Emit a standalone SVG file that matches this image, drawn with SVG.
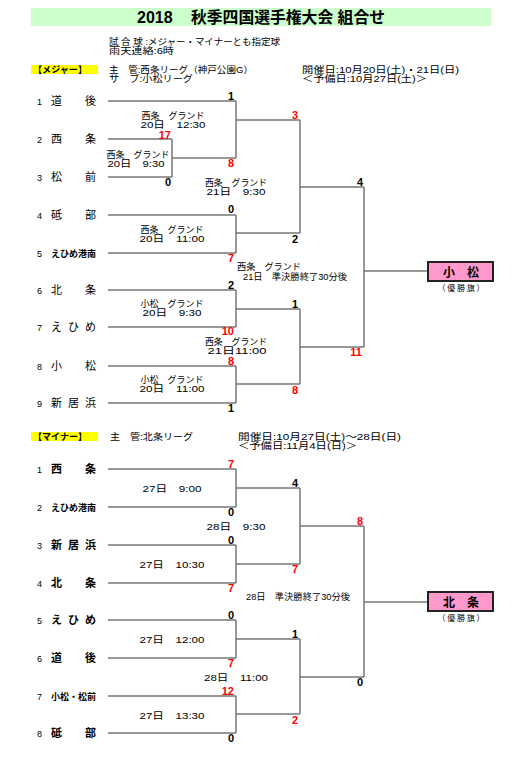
<svg xmlns="http://www.w3.org/2000/svg" width="525" height="767" viewBox="0 0 525 767">
<style>
text{font-family:'Liberation Sans','Noto Sans CJK JP',sans-serif;fill:#000}
.num{font-size:9px}
.nm{font-size:11px}
.nmb{font-size:11px;font-weight:bold}
.nms{font-size:9px;font-weight:bold}
.lb{font-size:9px;text-anchor:middle}
.lbs{font-size:9px}
.sc{font-size:11px;font-weight:bold;text-anchor:end}
.r{fill:#ff0000}
.hd{font-size:9px}
.yl{fill:#ffff00}
.ln{fill:none;stroke:#777;stroke-width:1.5}
.win{fill:#ff99cc;stroke:#222;stroke-width:2}
.wt{font-size:12px;font-weight:bold;text-anchor:middle}
.wf{font-size:8px;text-anchor:middle}
</style>
<rect width="525" height="767" fill="#fff"/>
<g id="header">
<rect x="31" y="8" width="460" height="18" fill="#ccffcc"/>
<text y="23" font-size="16" font-weight="bold"><tspan x="137">2018</tspan><tspan x="191" textLength="194" lengthAdjust="spacingAndGlyphs">秋季四国選手権大会 組合せ</tspan></text>
<text class="hd" x="109" y="45" textLength="171" lengthAdjust="spacingAndGlyphs">試 合 球 :メジャー・マイナーとも指定球</text>
<text class="hd" x="109" y="54" textLength="65" lengthAdjust="spacingAndGlyphs">雨天連絡:6時</text>
<rect class="yl" x="31" y="65" width="67" height="9"/>
<text class="hd" x="33" y="73" font-weight="bold" textLength="54" lengthAdjust="spacingAndGlyphs">【メジャー】</text>
<text class="hd" x="109" y="73" textLength="144" lengthAdjust="spacingAndGlyphs">主　管:西条リーグ（神戸公園G）</text>
<text class="hd" x="109" y="82" textLength="84" lengthAdjust="spacingAndGlyphs">サ　ブ:小松リーグ</text>
<text class="hd" x="302" y="73" textLength="157" lengthAdjust="spacingAndGlyphs">開催日:10月20日(土)・21日(日)</text>
<text class="hd" x="302" y="82" textLength="125" lengthAdjust="spacingAndGlyphs">＜予備日:10月27日(土)＞</text>
<rect class="yl" x="31" y="432" width="67" height="9"/>
<text class="hd" x="33" y="440" font-weight="bold" textLength="54" lengthAdjust="spacingAndGlyphs">【マイナー】</text>
<text class="hd" x="110" y="440" textLength="83" lengthAdjust="spacingAndGlyphs">主　管:北条リーグ</text>
<text class="hd" x="238" y="440" textLength="163" lengthAdjust="spacingAndGlyphs">開催日:10月27日(土)～28日(日)</text>
<text class="hd" x="238" y="449" textLength="119" lengthAdjust="spacingAndGlyphs">＜予備日:11月4日(日)＞</text>
</g>
<g id="connectors">
<path class="ln" d="M108 101H236M108 139H172M108 177H172M172 139V177M172 158H236M236 101V158M236 120H300M108 215H236M108 253H236M236 215V253M236 233H300M300 120V233M300 187H364M108 290H236M108 327H236M236 290V327M236 309H300M108 366H236M108 403H236M236 366V403M236 384H300M300 309V384M300 347H364M364 187V347M364 271H428"/>
<path class="ln" d="M108 469H236M108 507H236M236 469V507M236 488H300M108 545H236M108 583H236M236 545V583M236 564H300M300 488V564M300 526H364M108 620H236M108 658H236M236 620V658M236 639H300M108 696H236M108 733H236M236 696V733M236 714H300M300 639V714M300 677H364M364 526V677M364 602H428"/>
</g>
<g id="major-teams">
<g id="mj1"><text class="num" x="37" y="105">1</text><text class="nm" x="51 85" y="105">道後</text></g>
<g id="mj2"><text class="num" x="37" y="143">2</text><text class="nm" x="51 85" y="143">西条</text></g>
<g id="mj3"><text class="num" x="37" y="181">3</text><text class="nm" x="51 85" y="181">松前</text></g>
<g id="mj4"><text class="num" x="37" y="219">4</text><text class="nm" x="51 85" y="219">砥部</text></g>
<g id="mj5"><text class="num" x="37" y="257">5</text><text class="nms" x="51" y="257" textLength="45" lengthAdjust="spacingAndGlyphs">えひめ港南</text></g>
<g id="mj6"><text class="num" x="37" y="294">6</text><text class="nm" x="51 85" y="294">北条</text></g>
<g id="mj7"><text class="num" x="37" y="331">7</text><text class="nm" x="51 68 85" y="331">えひめ</text></g>
<g id="mj8"><text class="num" x="37" y="370">8</text><text class="nm" x="51 85" y="370">小松</text></g>
<g id="mj9"><text class="num" x="37" y="407">9</text><text class="nm" x="51 68 85" y="407">新居浜</text></g>
</g>
<g id="minor-teams">
<g id="mn1"><text class="num" x="37" y="473">1</text><text class="nmb" x="51 85" y="473">西条</text></g>
<g id="mn2"><text class="num" x="37" y="511">2</text><text class="nms" x="51" y="511" textLength="45" lengthAdjust="spacingAndGlyphs">えひめ港南</text></g>
<g id="mn3"><text class="num" x="37" y="549">3</text><text class="nmb" x="51 68 85" y="549">新居浜</text></g>
<g id="mn4"><text class="num" x="37" y="587">4</text><text class="nmb" x="51 85" y="587">北条</text></g>
<g id="mn5"><text class="num" x="37" y="624">5</text><text class="nmb" x="51 68 85" y="624">えひめ</text></g>
<g id="mn6"><text class="num" x="37" y="662">6</text><text class="nmb" x="51 85" y="662">道後</text></g>
<g id="mn7"><text class="num" x="37" y="700">7</text><text class="nms" x="51" y="700" textLength="45" lengthAdjust="spacingAndGlyphs">小松・松前</text></g>
<g id="mn8"><text class="num" x="37" y="737">8</text><text class="nmb" x="51 85" y="737">砥部</text></g>
</g>
<g id="winner-major">
<rect class="win" x="428" y="262" width="65" height="19"/>
<text class="wt" x="461" y="277">小　松</text>
<text class="wf" x="461" y="291" textLength="47" lengthAdjust="spacing">（優勝旗）</text>
</g>
<g id="winner-minor">
<rect class="win" x="428" y="592" width="65" height="19"/>
<text class="wt" x="461" y="607">北　条</text>
<text class="wf" x="461" y="621" textLength="47" lengthAdjust="spacing">（優勝旗）</text>
</g>
<g id="labels">
<text class="lb" x="173" y="119" textLength="63" lengthAdjust="spacingAndGlyphs">西条　グランド</text>
<text class="lb" x="173" y="128" textLength="65" lengthAdjust="spacingAndGlyphs">20日　12:30</text>
<text class="lb" x="138" y="158" textLength="63" lengthAdjust="spacingAndGlyphs">西条　グランド</text>
<text class="lb" x="136" y="167" textLength="57" lengthAdjust="spacingAndGlyphs">20日　9:30</text>
<text class="lb" x="236" y="186" textLength="62" lengthAdjust="spacingAndGlyphs">西条　グランド</text>
<text class="lb" x="236" y="195" textLength="59" lengthAdjust="spacingAndGlyphs">21日　9:30</text>
<text class="lb" x="172" y="233" textLength="63" lengthAdjust="spacingAndGlyphs">西条　グランド</text>
<text class="lb" x="172" y="242" textLength="65" lengthAdjust="spacingAndGlyphs">20日　11:00</text>
<text class="lbs" x="237" y="270" textLength="64" lengthAdjust="spacingAndGlyphs">西条　グランド</text>
<text class="lbs" x="243" y="280" textLength="104" lengthAdjust="spacingAndGlyphs">21日　準決勝終了30分後</text>
<text class="lb" x="172" y="307" textLength="63" lengthAdjust="spacingAndGlyphs">小松　グランド</text>
<text class="lb" x="172" y="316" textLength="59" lengthAdjust="spacingAndGlyphs">20日　9:30</text>
<text class="lb" x="236" y="345" textLength="62" lengthAdjust="spacingAndGlyphs">西条　グランド</text>
<text class="lb" x="237" y="354" textLength="59" lengthAdjust="spacingAndGlyphs">21日11:00</text>
<text class="lb" x="172" y="383" textLength="63" lengthAdjust="spacingAndGlyphs">小松　グランド</text>
<text class="lb" x="172" y="392" textLength="65" lengthAdjust="spacingAndGlyphs">20日　11:00</text>
<text class="lb" x="172" y="492" textLength="59" lengthAdjust="spacingAndGlyphs">27日　9:00</text>
<text class="lb" x="236" y="530" textLength="59" lengthAdjust="spacingAndGlyphs">28日　9:30</text>
<text class="lb" x="172" y="568" textLength="65" lengthAdjust="spacingAndGlyphs">27日　10:30</text>
<text class="lbs" x="246" y="600" textLength="104" lengthAdjust="spacingAndGlyphs">28日　準決勝終了30分後</text>
<text class="lb" x="172" y="643" textLength="65" lengthAdjust="spacingAndGlyphs">27日　12:00</text>
<text class="lb" x="236" y="681" textLength="64" lengthAdjust="spacingAndGlyphs">28日　11:00</text>
<text class="lb" x="172" y="719" textLength="65" lengthAdjust="spacingAndGlyphs">27日　13:30</text>
</g>
<g id="scores">
<text class="sc" x="234" y="100">1</text>
<text class="sc r" x="171" y="139">17</text>
<text class="sc" x="171" y="186">0</text>
<text class="sc r" x="234" y="167">8</text>
<text class="sc r" x="298" y="119">3</text>
<text class="sc" x="298" y="243">2</text>
<text class="sc" x="363" y="186">4</text>
<text class="sc" x="234" y="213">0</text>
<text class="sc r" x="234" y="262">7</text>
<text class="sc" x="234" y="289">2</text>
<text class="sc r" x="234" y="335">10</text>
<text class="sc" x="298" y="308">1</text>
<text class="sc r" x="362" y="356">11</text>
<text class="sc r" x="234" y="365">8</text>
<text class="sc" x="234" y="412">1</text>
<text class="sc r" x="298" y="394">8</text>
<text class="sc r" x="234" y="468">7</text>
<text class="sc" x="234" y="516">0</text>
<text class="sc" x="234" y="544">0</text>
<text class="sc r" x="234" y="592">7</text>
<text class="sc" x="298" y="487">4</text>
<text class="sc r" x="298" y="573">7</text>
<text class="sc r" x="363" y="525">8</text>
<text class="sc" x="234" y="619">0</text>
<text class="sc r" x="234" y="667">7</text>
<text class="sc r" x="234" y="695">12</text>
<text class="sc" x="234" y="742">0</text>
<text class="sc" x="298" y="638">1</text>
<text class="sc r" x="298" y="724">2</text>
<text class="sc" x="363" y="686">0</text>
</g>
</svg>
